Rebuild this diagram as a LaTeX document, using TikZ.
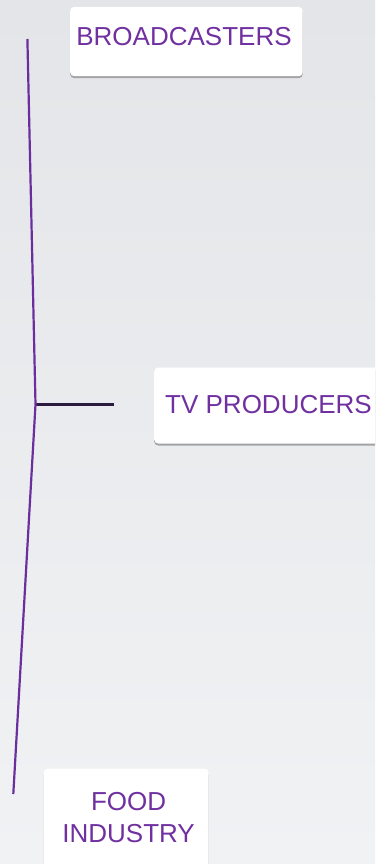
\documentclass[tikz,border=0pt]{standalone}
\usepackage{fontspec}
\setmainfont{Liberation Sans}
\definecolor{txtpurple}{HTML}{7030A0}
\definecolor{linepurple}{HTML}{6A2E9E}
\definecolor{bgtop}{HTML}{E3E5E8}
\definecolor{bgbot}{HTML}{F1F2F4}
\definecolor{shadowgray}{HTML}{A3A3A6}
\definecolor{stemdark}{HTML}{2B1B3E}
\tikzset{
  cardbox/.style={fill=white, draw=none, rounded corners=4pt, inner sep=0pt,
    preaction={fill=shadowgray, transform canvas={yshift=-2pt}}},
  cardtext/.style={text=txtpurple, font=\fontsize{26}{32}\selectfont, inner sep=0pt, align=center},
  trunk/.style={draw=linepurple, line width=2.2pt, line join=round},
  branch/.style={draw=stemdark, line width=2.4pt}
}
\begin{document}
\begin{tikzpicture}[x=1pt,y=-1pt]
\useasboundingbox (0,0) rectangle (375,864);
\clip (0,0) rectangle (375,864);
\shade[top color=bgtop, bottom color=bgbot] (0,0) rectangle (375,864);
% boxes
\node[cardbox, anchor=north west, minimum width=232.5pt, minimum height=69.3pt] (bbox) at (70,6.7) {};
\node[cardbox, anchor=north west, minimum width=240pt, minimum height=76pt] (tbox) at (154,367.3) {};
\node[cardbox, anchor=north west, minimum width=164.6pt, minimum height=110pt] (fbox) at (43.7,768.3) {};
% texts
\node[cardtext, anchor=base] (btext) at (184,46) {BROADCASTERS};
\node[cardtext, anchor=base] (ttext) at (268.5,413) {TV PRODUCERS};
\node[cardtext, anchor=base] (ftext1) at (128.6,810) {FOOD};
\node[cardtext, anchor=base] (ftext2) at (128.6,842) {INDUSTRY};
% connectors
\coordinate (top) at (27.4,39);
\coordinate (joint) at (35.5,404.5);
\coordinate (bottom) at (13.3,794);
\coordinate (tvend) at (114,404.5);
\draw[branch] (joint) -- (tvend);
\draw[trunk] (top) -- (joint) -- (bottom);
\end{tikzpicture}
\end{document}
